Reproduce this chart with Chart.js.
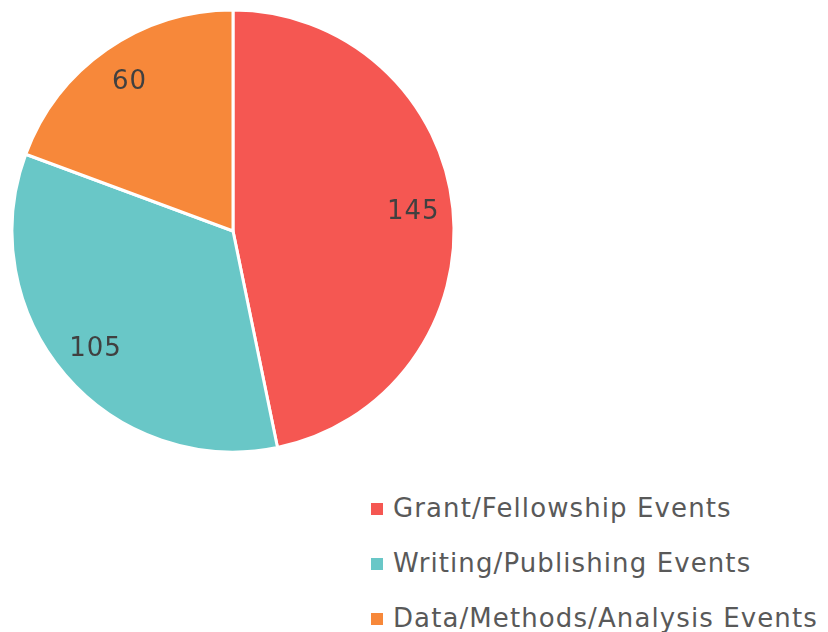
<!DOCTYPE html>
<html>
<head>
<meta charset="utf-8">
<script src="https://cdn.jsdelivr.net/npm/chart.js@4.4.0/dist/chart.umd.min.js"></script>
<style>
  body { margin: 0; background: #fff; font-family: "DejaVu Sans", Verdana, sans-serif; }
  #wrap { position: relative; width: 828px; height: 632px; overflow: hidden; }
  #pieBox { position: absolute; left: 3px; top: 1px; width: 460px; height: 460px; }
  #legend { position: absolute; left: 371px; top: 480px; }
  .item { height: 55px; display: flex; align-items: center; }
  .item span.box { width: 12px; height: 12px; margin-right: 10px; margin-top: 2px; }
  .item span.txt { font-size: 26px; letter-spacing: 1.1px; color: #595959; white-space: nowrap; }
</style>
</head>
<body>
<div id="wrap">
  <div id="pieBox"><canvas id="pieChart"></canvas></div>
  <div id="legend"></div>
</div>
<script>
const categories = ["Grant/Fellowship Events", "Writing/Publishing Events", "Data/Methods/Analysis Events"];
const eventCounts = [145, 105, 60];
const sliceColors = ["#f55752", "#69c7c7", "#f7883a"];

// value labels drawn inside each slice
const sliceLabels = {
    id: "sliceLabels",
    afterDatasetsDraw(chart) {
        const ctx = chart.ctx;
        const meta = chart.getDatasetMeta(0);
        ctx.save();
        ctx.font = "26px 'DejaVu Sans', Verdana, sans-serif";
        ctx.letterSpacing = "1px";
        ctx.fillStyle = "#404040";
        ctx.textAlign = "center";
        ctx.textBaseline = "middle";
        meta.data.forEach((arc, i) => {
            const p = arc.getProps(["x", "y", "startAngle", "endAngle", "outerRadius"], true);
            const mid = (p.startAngle + p.endAngle) / 2;
            const r = p.outerRadius * 0.82;
            ctx.fillText(String(eventCounts[i]), p.x + Math.cos(mid) * r, p.y + Math.sin(mid) * r);
        });
        ctx.restore();
    }
};

new Chart(document.getElementById("pieChart"), {
    type: "pie",
    data: {
        labels: categories,
        datasets: [{
            data: eventCounts,
            backgroundColor: sliceColors,
            borderColor: "#ffffff",
            borderWidth: 3
        }]
    },
    options: {
        responsive: true,
        maintainAspectRatio: false,
        animation: false,
        radius: 221,
        plugins: {
            legend: { display: false },
            tooltip: { enabled: false }
        }
    },
    plugins: [sliceLabels]
});

// Legend
let legendHTML = "";
categories.forEach((c, i) => {
    legendHTML += `<div class="item"><span class="box" style="background:${sliceColors[i]}"></span><span class="txt">${c}</span></div>`;
});
document.getElementById("legend").innerHTML = legendHTML;
</script>
</body>
</html>
